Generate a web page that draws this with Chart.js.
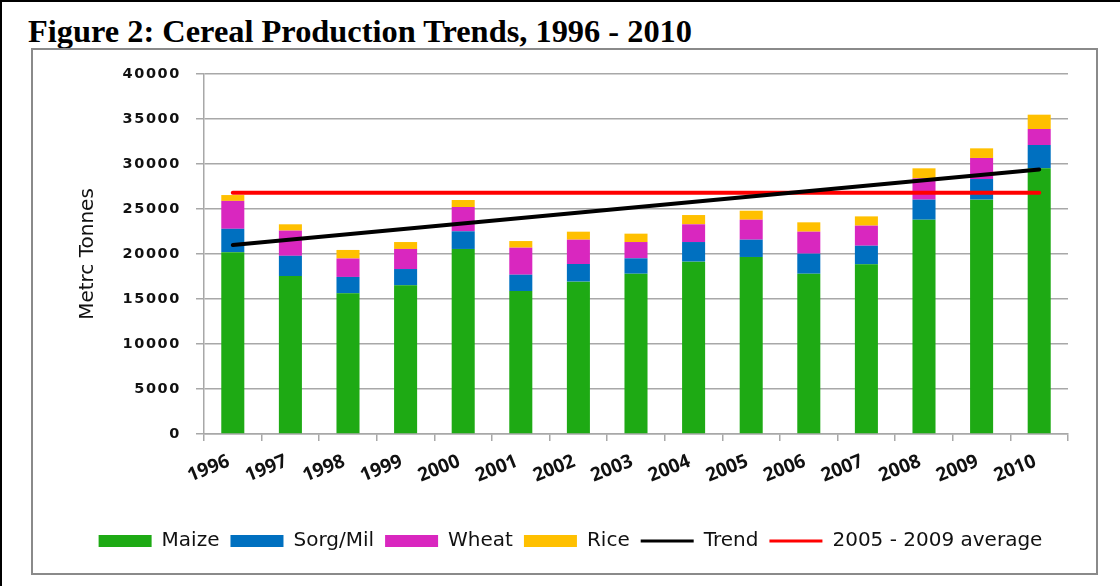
<!DOCTYPE html>
<html>
<head>
<meta charset="utf-8">
<script src="https://cdn.jsdelivr.net/npm/chart.js@4/dist/chart.umd.min.js"></script>
<style>
  html, body { margin: 0; padding: 0; background: #fff; }
  #page { position: relative; width: 1120px; height: 586px; overflow: hidden; background: #fff; }
  #frameTop { position: absolute; left: 0; top: 0; width: 1120px; height: 2px; background: #000; }
  #frameLeft { position: absolute; left: 0; top: 0; width: 2px; height: 586px; background: #000; }
  #title { position: absolute; left: 28px; top: 15px; font-family: "Liberation Serif", "Times New Roman", serif; font-weight: bold; font-size: 32.4px; line-height: 32px; color: #000; white-space: nowrap; }
  #box { position: absolute; left: 31px; top: 48px; width: 1063px; height: 523px; border: 2px solid #8a8a8a; }
  #wrap { position: relative; width: 1063px; height: 523px; }
</style>
</head>
<body>
<div id="page">
  <div id="frameTop"></div>
  <div id="frameLeft"></div>
  <div id="title">Figure 2: Cereal Production Trends, 1996 - 2010</div>
  <div id="box"><div id="wrap"><canvas id="c"></canvas></div></div>
</div>
<script>
// ---- data ----
const years = ['1996','1997','1998','1999','2000','2001','2002','2003','2004','2005','2006','2007','2008','2009','2010'];
const maize   = [20200,17550,15630,16520,20560,15890,16930,17810,19150,19670,17810,18850,23810,26040,29520];
const sorgMil = [2600,2250,1820,1810,1960,1810,1960,1710,2180,1920,2230,2070,2230,2290,2590];
const wheat   = [3100,2800,2050,2230,2700,3000,2700,1810,1970,2220,2440,2230,2370,2340,1780];
const rice    = [650,700,950,770,780,740,890,930,1030,1000,1040,1030,1110,1070,1590];
// trend line: start and end values (straight line between them)
const trend   = [21000,null,null,null,null,null,null,null,null,null,null,null,null,null,29400];
// 2005 - 2009 average line (flat)
const avg0509 = [26800,null,null,null,null,null,null,null,null,null,null,null,null,null,26800];
const yTicks  = { min: 0, max: 40000, step: 5000 };
const seriesNames = ['Maize','Sorg/Mil','Wheat','Rice','Trend','2005 - 2009 average'];
const yTitle = 'Metrc Tonnes';

const gridColor = '#a8a8a8';

const tickSpacing = {
  id: 'tickSpacing',
  afterUpdate(chart) {
    const s = chart.scales.y;
    if (s && !s.__wrapped) {
      const orig = s.drawLabels;
      s.drawLabels = function(area) {
        const ctx = this.ctx;
        const prev = ctx.letterSpacing;
        ctx.letterSpacing = '1.6px';
        orig.call(this, area);
        ctx.letterSpacing = prev || '0px';
      };
      s.__wrapped = true;
    }
  }
};

const barCommon = { stack: 'cereal', order: 1, categoryPercentage: 1.0, barPercentage: 0.4, borderWidth: 0 };

new Chart(document.getElementById('c'), {
  type: 'bar',
  data: {
    labels: years,
    datasets: [
      Object.assign({ label: seriesNames[0], data: maize,   backgroundColor: '#1EAA14' }, barCommon),
      Object.assign({ label: seriesNames[1], data: sorgMil, backgroundColor: '#0070C0' }, barCommon),
      Object.assign({ label: seriesNames[2], data: wheat,   backgroundColor: '#D927BF' }, barCommon),
      Object.assign({ label: seriesNames[3], data: rice,    backgroundColor: '#FFC000' }, barCommon),
      { type: 'line', label: seriesNames[4], data: trend, stack: 'trend', order: 0,
        borderColor: '#000000', backgroundColor: '#000000', borderWidth: 4, pointRadius: 0,
        spanGaps: true, borderCapStyle: 'round', tension: 0 },
      { type: 'line', label: seriesNames[5], data: avg0509, stack: 'avg', order: 0,
        borderColor: '#FF0000', backgroundColor: '#FF0000', borderWidth: 4, pointRadius: 0,
        spanGaps: true, borderCapStyle: 'round', tension: 0 }
    ]
  },
  options: {
    responsive: true,
    maintainAspectRatio: false,
    animation: false,
    layout: { padding: { left: 40, right: 28, top: 24, bottom: 12 } },
    plugins: {
      tooltip: { enabled: false },
      title: { display: false },
      legend: {
        position: 'bottom',
        labels: {
          usePointStyle: true,
          pointStyleWidth: 53,
          boxHeight: 12,
          padding: 11,
          color: '#111',
          font: { family: '"DejaVu Sans", sans-serif', size: 20 },
          sort: (a, b) => a.datasetIndex - b.datasetIndex,
          generateLabels: (chart) => {
            const items = Chart.defaults.plugins.legend.labels.generateLabels(chart);
            items.forEach(it => {
              const ds = chart.data.datasets[it.datasetIndex];
              if (ds.type === 'line') {
                it.pointStyle = 'line';
                it.lineWidth = 3;
                it.strokeStyle = ds.borderColor;
                it.fillStyle = ds.borderColor;
                it.lineCap = 'butt';
              } else {
                it.pointStyle = 'rect';
                it.lineWidth = 0;
                it.fillStyle = ds.backgroundColor;
                it.strokeStyle = ds.backgroundColor;
              }
            });
            return items;
          }
        }
      }
    },
    scales: {
      x: {
        stacked: true,
        afterFit: (s) => { s.height = 86; },
        grid: { display: true, drawOnChartArea: false, drawTicks: true, tickLength: 7, color: gridColor, lineWidth: 1.5, offset: true },
        border: { display: true, color: gridColor, width: 1.5 },
        ticks: {
          color: '#111',
          font: { family: '"Open Sans", "DejaVu Sans", sans-serif', size: 19, weight: 'bold' },
          minRotation: 22, maxRotation: 22,
          padding: 9,
          labelOffset: -4,
          autoSkip: false
        }
      },
      y: {
        stacked: true,
        min: yTicks.min, max: yTicks.max,
        afterFit: (s) => { s.width = 131; },
        grid: { color: gridColor, lineWidth: 1.5, tickLength: 8, drawTicks: true },
        border: { display: true, color: gridColor, width: 1.5 },
        ticks: {
          stepSize: yTicks.step,
          color: '#111',
          font: { family: '"DejaVu Sans", sans-serif', size: 14.5, weight: 'bold' },
          padding: 15,
          callback: (v) => String(v)
        },
        title: {
          display: true,
          text: yTitle,
          color: '#111',
          font: { family: '"DejaVu Sans", sans-serif', size: 20 },
          padding: { top: 3, bottom: 0 }
        }
      }
    }
  },
  plugins: [tickSpacing]
});
</script>
</body>
</html>
